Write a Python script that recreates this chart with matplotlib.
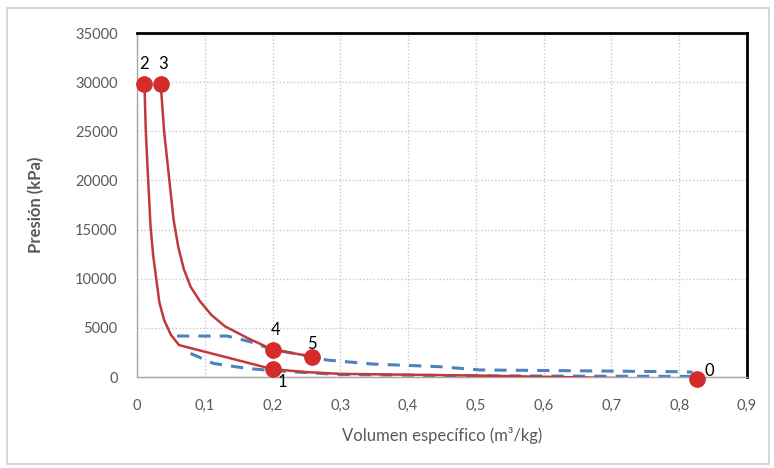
import matplotlib
matplotlib.use("Agg")
import matplotlib.pyplot as plt
from matplotlib.patches import Rectangle

# Data
# Lower red curve: 2 -> 1 -> 0
v_low = [0.011, 0.013, 0.016, 0.020, 0.024, 0.028, 0.033, 0.040, 0.050, 0.062, 0.200, 0.250, 0.300, 0.500, 0.826]
p_low = [29800, 25000, 20700, 15300, 12300, 10200, 7600, 5800, 4300, 3250, 800, 500, 320, 150, -250]
# Upper red curve: 3 -> 4 -> 5
v_up = [0.035, 0.040, 0.047, 0.054, 0.061, 0.069, 0.079, 0.093, 0.110, 0.130, 0.165, 0.200, 0.258]
p_up = [29800, 25000, 20500, 16000, 13200, 11000, 9200, 7700, 6300, 5150, 3900, 2800, 2080]

# Blue dashed dome (upper / vapor side)
v_dash_up = [0.059, 0.133, 0.167, 0.200, 0.258, 0.280, 0.348, 0.447, 0.506, 0.801, 0.820]
p_dash_up = [4170, 4170, 3590, 2800, 2080, 1730, 1320, 1050, 720, 540, 500]
# Blue dashed (lower / liquid side)
v_dash_low = [0.079, 0.113, 0.162, 0.200, 0.300, 0.500, 0.820]
p_dash_low = [2400, 1380, 880, 650, 250, 120, 60]

# Labelled state points
pt_names = ["0", "1", "2", "3", "4", "5"]
pt_v = [0.826, 0.200, 0.011, 0.035, 0.200, 0.258]
pt_p = [-250, 800, 29800, 29800, 2800, 2080]
lbl_off = [(0.018, 850), (0.014, -1300), (0.0, 2100), (0.003, 2100), (0.004, 2000), (0.0, 1300)]

x_ticks = [0, 0.1, 0.2, 0.3, 0.4, 0.5, 0.6, 0.7, 0.8, 0.9]
x_ticklabels = ["0", "0,1", "0,2", "0,3", "0,4", "0,5", "0,6", "0,7", "0,8", "0,9"]
y_ticks = [0, 5000, 10000, 15000, 20000, 25000, 30000, 35000]

plt.rcParams['font.family'] = ['Lato', 'DejaVu Sans']

fig = plt.figure(figsize=(7.74, 4.68), dpi=100)
fig.patches.append(Rectangle((0.009, 0.008), 0.985, 0.975, transform=fig.transFigure,
                             fill=False, edgecolor="#d0d0d0", linewidth=1.2))
ax = fig.add_axes([0.177, 0.1944, 0.788, 0.735])

ax.plot(v_dash_up, p_dash_up, color="#4F81BD", lw=2.2, ls=(0, (4, 3)), zorder=2)
ax.plot(v_dash_low, p_dash_low, color="#4F81BD", lw=2.2, ls=(0, (4, 3)), zorder=2)
ax.plot(v_low, p_low, color="#C0393B", lw=1.8, zorder=3)
ax.plot(v_up, p_up, color="#C0393B", lw=1.8, zorder=3)
ax.plot(pt_v, pt_p, ls="none", marker="o", ms=11, color="#D42B2B", zorder=4, clip_on=False)

for n, v, p, (dx, dy) in zip(pt_names, pt_v, pt_p, lbl_off):
    ax.text(v + dx, p + dy, n, fontsize=12, color="black", ha="center", va="center", zorder=5)

ax.set_xlim(0, 0.9)
ax.set_ylim(0, 35000)
ax.set_xticks(x_ticks)
ax.set_xticklabels(x_ticklabels)
ax.set_yticks(y_ticks)
ax.tick_params(axis="both", length=0, labelsize=10.5, labelcolor="#595959")
ax.tick_params(axis="x", pad=16)
ax.tick_params(axis="y", pad=14)
ax.grid(True, color="#cfc6c6", ls=(0, (1, 1.5)), lw=1.0)
ax.set_axisbelow(True)

for s in ["left", "bottom"]:
    ax.spines[s].set_color("#a6a6a6")
    ax.spines[s].set_linewidth(1.0)
for s in ["top", "right"]:
    ax.spines[s].set_color("black")
    ax.spines[s].set_linewidth(2.0)

ax.set_xlabel("Volumen específico (m³/kg)", fontsize=12, color="#595959", labelpad=10)
ax.set_ylabel("Presión (kPa)", fontsize=12, color="#595959", fontweight="bold", labelpad=22)

fig.savefig("out.png", dpi=100)
